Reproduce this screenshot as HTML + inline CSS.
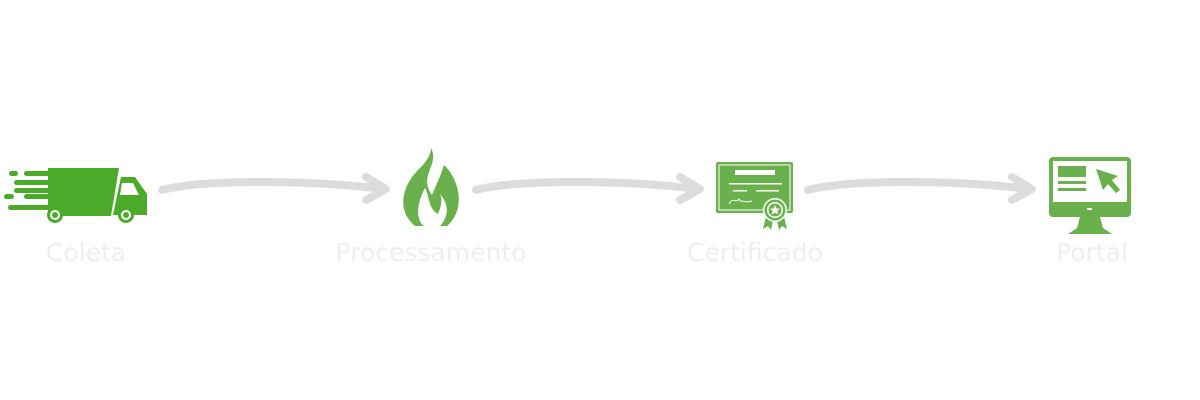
<!DOCTYPE html>
<html><head><meta charset="utf-8"><style>
html,body{margin:0;padding:0;background:#fff;width:1200px;height:400px;overflow:hidden}
</style></head><body>
<svg width="1200" height="400" viewBox="0 0 1200 400" xmlns="http://www.w3.org/2000/svg">
<g fill="none" stroke="#dcdcdc" stroke-width="8" stroke-linecap="round" stroke-linejoin="round">
<path d="M162 190 C200 180 300 179 384 189"/><path d="M366 177 L386 189 L366 200"/>
<path d="M476 190 C514 180 614 179 698 189"/><path d="M680 177 L700 189 L680 200"/>
<path d="M808 190 C846 180 946 179 1030 189"/><path d="M1012 177 L1032 189 L1012 200"/>
</g>
<!-- truck -->
<g fill="#4caa2a">
<rect x="9" y="171" width="9" height="5" rx="2.5"/>
<rect x="24" y="171" width="30" height="5" rx="2.5"/>
<rect x="14" y="180" width="40" height="5" rx="2.5"/>
<rect x="14" y="188" width="40" height="5" rx="2.5"/>
<rect x="4" y="194" width="10" height="5" rx="2.5"/>
<rect x="24" y="194" width="30" height="5" rx="2.5"/>
<rect x="8" y="205" width="44" height="5" rx="2.5"/>
<path d="M48 168 H119 L111 216 H48 Z"/>
<path d="M121 177 H135 L147 194 V215 H113 Z"/>
<circle cx="55" cy="215" r="8"/><circle cx="126" cy="215" r="8"/>
</g>
<path d="M122 183 H133 L139 195 H120 Z" fill="#fff"/>
<circle cx="55" cy="215" r="5" fill="#fff"/><circle cx="55" cy="215" r="3" fill="#4caa2a"/>
<circle cx="126" cy="215" r="5" fill="#fff"/><circle cx="126" cy="215" r="3" fill="#4caa2a"/>
<!-- flame -->
<path fill="#6ab04c" d="M431 148 C440 165 418 175 432 195 C436 185 440 178 444 165 C460 180 466 210 447 226 H415 C396 210 402 185 420 168 C426 162 431 155 431 148 Z"/>
<path fill="#fff" d="M425 188 C430 198 428 208 438 214 C442 205 442 198 440 194 C450 205 448 218 440 226 H424 C416 220 416 205 425 188 Z"/>
<!-- certificate -->
<rect x="716" y="162" width="77" height="51" rx="2" fill="#6ab04c"/>
<rect x="719" y="165" width="71" height="45" fill="none" stroke="#fff" stroke-width="1"/>
<rect x="735" y="170" width="40" height="5" fill="#fff"/>
<rect x="729" y="183" width="53" height="1.5" fill="#fff"/>
<rect x="733" y="190" width="14" height="1.5" fill="#fff"/><rect x="756" y="190" width="23" height="1.5" fill="#fff"/>
<path d="M729 204 C733 196 736 204 739 199 C741 203 743 200 746 202 L752 201" stroke="#fff" fill="none" stroke-width="1"/>
<path d="M767 213 L763 229 L768 226 L771 230 L774 215 Z M783 213 L787 229 L782 226 L779 230 L776 215 Z" fill="#6ab04c"/>
<circle cx="775" cy="210" r="12" fill="#fff"/><circle cx="775" cy="210" r="10.5" fill="#6ab04c"/>
<circle cx="775" cy="210" r="8" fill="#fff"/><circle cx="775" cy="210" r="6.5" fill="#6ab04c"/>
<path d="M775 205 L776.5 208.5 L780 208.8 L777.3 211 L778.2 214.5 L775 212.6 L771.8 214.5 L772.7 211 L770 208.8 L773.5 208.5 Z" fill="#fff"/>
<!-- monitor -->
<rect x="1049" y="157" width="82" height="60" rx="4" fill="#6ab04c"/>
<rect x="1053" y="161" width="74" height="41" fill="#fff"/>
<rect x="1058" y="166" width="28" height="11" fill="#6ab04c"/>
<rect x="1058" y="181" width="28" height="3" fill="#6ab04c"/>
<rect x="1058" y="188" width="28" height="3" fill="#6ab04c"/>
<path d="M1096 169 L1118 176 L1112 180 L1120 190 L1116 193 L1108 184 L1103 190 Z" fill="#6ab04c"/>
<rect x="1087" y="208" width="5" height="2" fill="#fff"/>
<path d="M1080 217 H1100 L1103 228 L1112 234 H1068 L1077 228 Z" fill="#6ab04c"/>
<g font-family="DejaVu Sans, sans-serif" font-size="25" fill="#eeeeee" text-anchor="middle">
<text x="86" y="261">Coleta</text>
<text x="431" y="261">Processamento</text>
<text x="755" y="261">Certificado</text>
<text x="1092" y="261">Portal</text>
</g>
</svg>
</body></html>
